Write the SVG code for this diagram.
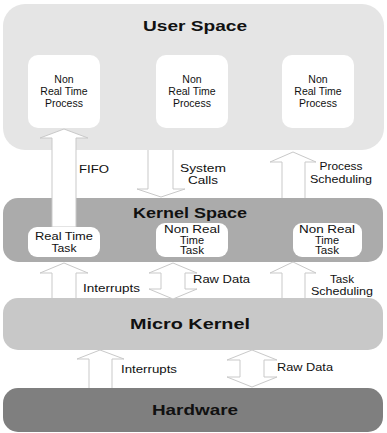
<svg xmlns="http://www.w3.org/2000/svg" width="387" height="433" viewBox="0 0 387 433">
  <style>
    .title { font-family: "Liberation Sans", Arial, sans-serif; font-weight: bold; font-size: 15px; fill: #111; text-anchor: middle; }
    .lbl { font-family: "Liberation Sans", Arial, sans-serif; font-size: 11px; fill: #111; }
    .proc { font-size: 10.5px; }
    .task { font-size: 10px; }
    .mid { text-anchor: middle; }
    .card { fill: #ffffff; }
    .arrow { fill: #ffffff; stroke: #c9c9c9; stroke-width: 1; stroke-linejoin: miter; }
  </style>
  <rect width="387" height="433" fill="#ffffff"/>

  <!-- layers -->
  <g id="user-space">
    <rect x="3" y="4" width="381" height="146" rx="22" fill="#e5e5e5"/>
    <text class="title" x="195" y="31" textLength="104" lengthAdjust="spacingAndGlyphs">User Space</text>
  </g>
  <g id="kernel-space">
    <rect x="3" y="198" width="380" height="64" rx="15" fill="#ababab"/>
    <text class="title" x="190" y="218" textLength="114" lengthAdjust="spacingAndGlyphs">Kernel Space</text>
  </g>
  <g id="micro-kernel">
    <rect x="3" y="298" width="380" height="52" rx="15" fill="#c8c8c8"/>
    <text class="title" x="190" y="329" textLength="120" lengthAdjust="spacingAndGlyphs">Micro Kernel</text>
  </g>
  <g id="hardware">
    <rect x="3" y="388" width="380" height="44" rx="15" fill="#7f7f7f"/>
    <text class="title" x="195" y="415" textLength="86" lengthAdjust="spacingAndGlyphs">Hardware</text>
  </g>

  <!-- connectors -->
  <g id="connectors">
    <!-- FIFO: real time task up to user space -->
    <path class="arrow" d="M52,227 V138 H40 L64,129 L88,138 H76 V227 Z"/>
    <text class="lbl" x="79" y="173" textLength="30" lengthAdjust="spacingAndGlyphs">FIFO</text>
    <!-- system calls: down into kernel space -->
    <path class="arrow" d="M148,150 V189 H137 L161,197 L185,189 H173 V150"/>
    <text class="lbl mid" x="203" y="172" textLength="46" lengthAdjust="spacingAndGlyphs">System</text>
    <text class="lbl mid" x="203" y="184" textLength="30" lengthAdjust="spacingAndGlyphs">Calls</text>
    <!-- process scheduling: up into user space -->
    <path class="arrow" d="M282,198 V162 H270 L293,152 L316,162 H305 V198"/>
    <text class="lbl mid" x="341" y="170" textLength="43" lengthAdjust="spacingAndGlyphs">Process</text>
    <text class="lbl mid" x="341" y="183" textLength="62" lengthAdjust="spacingAndGlyphs">Scheduling</text>

    <!-- micro kernel to kernel space -->
    <path class="arrow" d="M52,298 V273 H40 L64,263 L88,273 H76 V298"/>
    <text class="lbl" x="83" y="292" textLength="57" lengthAdjust="spacingAndGlyphs">Interrupts</text>
    <path class="arrow" d="M173,263 L197,273 H185 V289 H197 L173,299 L149,289 H161 V273 H149 Z"/>
    <text class="lbl" x="193" y="283" textLength="57" lengthAdjust="spacingAndGlyphs">Raw Data</text>
    <path class="arrow" d="M282,298 V273 H270 L293,262 L316,273 H305 V298"/>
    <text class="lbl mid" x="342" y="283" textLength="24" lengthAdjust="spacingAndGlyphs">Task</text>
    <text class="lbl mid" x="342" y="295" textLength="62" lengthAdjust="spacingAndGlyphs">Scheduling</text>

    <!-- hardware to micro kernel -->
    <path class="arrow" d="M89,388 V359 H77 L100,350 L124,359 H112 V388"/>
    <text class="lbl" x="121" y="373" textLength="56" lengthAdjust="spacingAndGlyphs">Interrupts</text>
    <path class="arrow" d="M252,350 L277,360 H264 V377 H277 L252,387 L227,377 H240 V360 H227 Z"/>
    <text class="lbl" x="277" y="371" textLength="56" lengthAdjust="spacingAndGlyphs">Raw Data</text>
  </g>

  <!-- user processes -->
  <g id="nrt-process-1">
    <rect class="card" x="28" y="55" width="72" height="73" rx="10"/>
    <text class="lbl proc mid" x="64" y="83">Non</text>
    <text class="lbl proc mid" x="64" y="95">Real Time</text>
    <text class="lbl proc mid" x="64" y="107">Process</text>
  </g>
  <g id="nrt-process-2">
    <rect class="card" x="156" y="55" width="72" height="73" rx="10"/>
    <text class="lbl proc mid" x="192" y="83">Non</text>
    <text class="lbl proc mid" x="192" y="95">Real Time</text>
    <text class="lbl proc mid" x="192" y="107">Process</text>
  </g>
  <g id="nrt-process-3">
    <rect class="card" x="282" y="55" width="72" height="73" rx="10"/>
    <text class="lbl proc mid" x="318" y="83">Non</text>
    <text class="lbl proc mid" x="318" y="95">Real Time</text>
    <text class="lbl proc mid" x="318" y="107">Process</text>
  </g>

  <!-- kernel tasks -->
  <g id="rt-task">
    <rect class="card" x="28" y="227" width="72" height="30" rx="9"/>
    <text class="lbl mid" x="64" y="240" textLength="58" lengthAdjust="spacingAndGlyphs">Real Time</text>
    <text class="lbl mid" x="64" y="252" textLength="25" lengthAdjust="spacingAndGlyphs">Task</text>
  </g>
  <g id="nrt-task-1">
    <rect class="card" x="156" y="223" width="72" height="34" rx="9"/>
    <text class="lbl task mid" x="192" y="233" textLength="56" lengthAdjust="spacingAndGlyphs">Non Real</text>
    <text class="lbl task mid" x="192" y="243.5" textLength="24" lengthAdjust="spacingAndGlyphs">Time</text>
    <text class="lbl task mid" x="192" y="254" textLength="24" lengthAdjust="spacingAndGlyphs">Task</text>
  </g>
  <g id="nrt-task-2">
    <rect class="card" x="293" y="223" width="69" height="34" rx="9"/>
    <text class="lbl task mid" x="327" y="233" textLength="56" lengthAdjust="spacingAndGlyphs">Non Real</text>
    <text class="lbl task mid" x="327" y="243.5" textLength="24" lengthAdjust="spacingAndGlyphs">Time</text>
    <text class="lbl task mid" x="327" y="254" textLength="24" lengthAdjust="spacingAndGlyphs">Task</text>
  </g>
</svg>
